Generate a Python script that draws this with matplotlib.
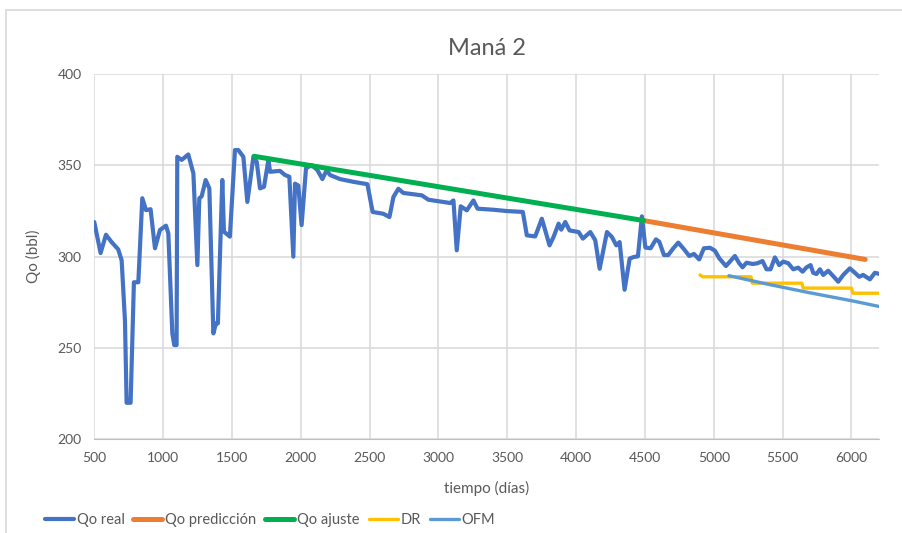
"""Qo real vs adjusted and predicted decline for well Maná 2."""
import matplotlib.pyplot as plt
from matplotlib.patches import Rectangle

# Qo real
real_dias = [500, 546, 585, 626, 674, 699, 723, 735, 764, 788, 820, 849, 876,
             909, 941, 977, 1021, 1038, 1067, 1081, 1098, 1103, 1135, 1183,
             1220, 1249, 1263, 1280, 1309, 1336, 1365, 1384, 1398, 1430, 1442,
             1485, 1522, 1546, 1583, 1612, 1656, 1680, 1704, 1733, 1765, 1777,
             1849, 1886, 1917, 1946, 1958, 1982, 2006, 2038, 2079, 2121, 2157,
             2188, 2213, 2285, 2382, 2484, 2522, 2600, 2644, 2673, 2709, 2745,
             2879, 2927, 2988, 3085, 3109, 3133, 3162, 3206, 3254, 3284, 3400,
             3497, 3613, 3642, 3703, 3751, 3807, 3836, 3873, 3892, 3921, 3952,
             4018, 4049, 4103, 4139, 4171, 4224, 4260, 4292, 4316, 4352, 4389,
             4418, 4449, 4478, 4503, 4541, 4580, 4604, 4638, 4669, 4706, 4742,
             4778, 4822, 4856, 4894, 4928, 4972, 5008, 5040, 5088, 5117, 5153,
             5185, 5209, 5238, 5282, 5316, 5354, 5383, 5412, 5444, 5475, 5504,
             5541, 5577, 5613, 5645, 5674, 5703, 5722, 5746, 5771, 5795, 5831,
             5867, 5904, 5940, 5988, 6025, 6056, 6085, 6134, 6170, 6207]
real_qo = [319, 302, 312, 308, 304, 298, 265, 220, 220, 286, 286, 332, 325.5,
           326, 304.6, 314.6, 317, 312.8, 258, 251.6, 251.6, 354.7, 353, 356,
           345.6, 295.4, 332, 333, 342, 337.4, 258, 263.5, 263.5, 342, 313.7,
           311, 358.4, 358.4, 354.7, 330, 354.7, 352, 337.4, 338.3, 353, 346.5,
           347, 344.7, 343.8, 300, 340, 339, 317.3, 348.4, 350.2, 347.4, 342.5,
           347.4, 344.7, 342.5, 341, 339.7, 324.5, 323.5, 321.7, 332.7, 337.2,
           334.9, 333.6, 331.2, 330.5, 329.4, 330.8, 303.5, 327.6, 325.4, 330.8,
           326.3, 325.7, 325, 324.5, 311.7, 311.1, 320.8, 306.2, 310.8, 318.1,
           314.8, 319, 314.4, 313.5, 309.9, 313.5, 309, 293.4, 313.5, 310.8,
           306.2, 308, 281.9, 299, 299.8, 300.2, 322.1, 305, 304.6, 309.5,
           308.2, 300.9, 300.9, 304.6, 307.7, 304.6, 300.4, 301.5, 298.5, 304.6,
           304.9, 303.3, 299.1, 294.9, 297.3, 300.4, 296.4, 294.2, 296.7, 296,
           296.4, 297.6, 293.1, 293.1, 299.6, 295.4, 297.3, 296.4, 293.1, 294,
           291.8, 294.2, 295.4, 291.2, 290.5, 293.1, 290, 292.3, 289.4, 286.3,
           290, 293.6, 291.2, 289, 290, 287.6, 291.2, 290.5]

# Qo ajuste / prediccion
ajuste_dias = [1660, 4490]
ajuste_qo = [355, 319.8]
pred_dias = [4490, 6100]
pred_qo = [319.8, 298.5]

# DR (steps) and OFM
dr_dias = [4900, 4920, 5270, 5280, 5640, 5650, 6000, 6010, 6210]
dr_qo = [290, 289, 289, 285.5, 285.5, 282.8, 282.8, 280, 280]
ofm_dias = [5110, 5400, 5700, 6000, 6210]
ofm_qo = [289.6, 284.8, 280.2, 275.9, 272.6]

COLORS = {
    "real": "#4472C4",
    "pred": "#ED7D31",
    "ajuste": "#00B050",
    "dr": "#FFC000",
    "ofm": "#5B9BD5",
}


def main():
    plt.rcParams['font.family'] = ['Lato', 'DejaVu Sans']
    fig = plt.figure(figsize=(9.02, 5.33), dpi=100)
    ax = fig.add_axes([0.1045, 0.1758, 0.87, 0.6852])

    # chart area border (continues past the crop on right/bottom)
    fig.patches.append(Rectangle((6 / 902, -0.5), 2, (523 / 533) + 0.5,
                                 transform=fig.transFigure, fill=False,
                                 edgecolor="#D9D9D9", lw=1.2))

    kw = dict(solid_joinstyle="round", solid_capstyle="round")
    ax.plot(real_dias, real_qo, color=COLORS["real"], lw=3.0,
            label="Qo real", zorder=3, **kw)
    ax.plot(pred_dias, pred_qo, color=COLORS["pred"], lw=3.6,
            label="Qo predicción", zorder=4, **kw)
    ax.plot(ajuste_dias, ajuste_qo, color=COLORS["ajuste"], lw=3.6,
            label="Qo ajuste", zorder=4, **kw)
    ax.plot(dr_dias, dr_qo, color=COLORS["dr"], lw=2.4, label="DR",
            zorder=3, **kw)
    ax.plot(ofm_dias, ofm_qo, color=COLORS["ofm"], lw=2.4, label="OFM",
            zorder=3, **kw)

    ax.set_xlim(500, 6200)
    ax.set_ylim(200, 400)
    ax.set_xticks(range(500, 6001, 500))
    ax.set_yticks(range(200, 401, 50))
    ax.grid(True, color="#D9D9D9", lw=1.1)
    ax.set_axisbelow(True)
    for side in ["top", "right", "left"]:
        ax.spines[side].set_visible(False)
    ax.spines["bottom"].set_color("#BFBFBF")
    ax.tick_params(length=0, labelsize=10, colors="#595959", pad=9)

    ax.set_title("Maná 2", fontsize=17, color="#595959", pad=14)
    ax.set_xlabel("tiempo (días)", fontsize=11, color="#595959", labelpad=12)
    ax.set_ylabel("Qo (bbl)", fontsize=11, color="#595959", labelpad=12)

    fig.legend(loc="center", bbox_to_anchor=(270 / 902, 13 / 533), ncol=5,
               frameon=False, fontsize=10.5, handlelength=2.0,
               handletextpad=0.2, columnspacing=0.6, labelcolor="#595959")

    fig.savefig("out.png", dpi=100)
    plt.close(fig)


if __name__ == "__main__":
    main()
